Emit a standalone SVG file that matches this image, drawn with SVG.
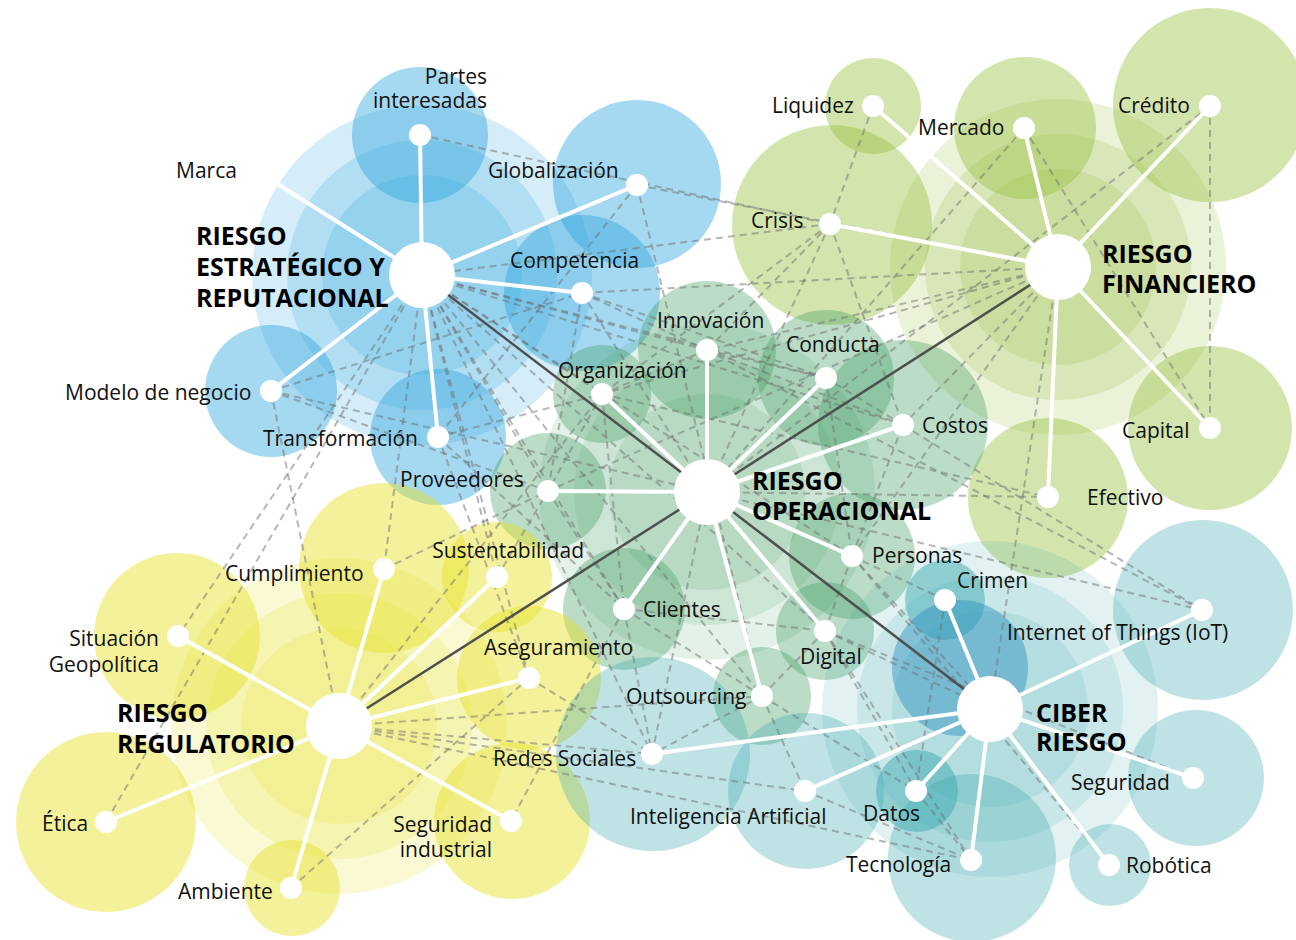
<svg xmlns="http://www.w3.org/2000/svg" width="1296" height="940" viewBox="0 0 1296 940">
<style>
.b{fill:#29a3dd;fill-opacity:.42}.br{fill:#29a3dd;fill-opacity:.2}
.g{fill:#96be3c;fill-opacity:.42}.gr{fill:#96be3c;fill-opacity:.2}
.o{fill:#3d9a5e;fill-opacity:.35}.or{fill:#3d9a5e;fill-opacity:.14}
.y{fill:#e6e128;fill-opacity:.47}.yr{fill:#e6e128;fill-opacity:.2}
.t{fill:#3caaaf;fill-opacity:.33}.tr{fill:#3caaaf;fill-opacity:.15}.td{fill:#3caaaf;fill-opacity:.5}
.d{stroke:#707070;stroke-opacity:.5;stroke-width:2;stroke-dasharray:7 5;fill:none}
.s{stroke:#fff;stroke-width:4;stroke-linecap:round}
.k{stroke:#4f4f4f;stroke-width:2.5}
.dot{fill:#fff}
text{font-family:"Open Sans","DejaVu Sans",sans-serif;font-size:21px;fill:#111}
.h{font-weight:bold;font-size:25px;fill:#000}
.e{text-anchor:end}
</style>
<rect width="1296" height="940" fill="#fff"/>
<g id="halos">
<circle class="br" cx="422" cy="275" r="170"/><circle class="br" cx="422" cy="275" r="135"/><circle class="br" cx="422" cy="275" r="100"/>
<circle class="b" cx="420" cy="135" r="68"/><circle class="b" cx="637" cy="184" r="84"/><circle class="b" cx="582" cy="293" r="78"/><circle class="b" cx="271" cy="391" r="66"/><circle class="b" cx="438" cy="437" r="68"/>
<circle class="gr" cx="1058" cy="267" r="168"/><circle class="gr" cx="1058" cy="267" r="133"/><circle class="gr" cx="1058" cy="267" r="98"/>
<circle class="g" cx="873" cy="106" r="48"/><circle class="g" cx="1025" cy="128" r="71"/><circle class="g" cx="1210" cy="105" r="97"/><circle class="g" cx="832" cy="225" r="100"/><circle class="g" cx="1210" cy="428" r="82"/><circle class="g" cx="1048" cy="498" r="80"/>
<circle class="or" cx="707" cy="492" r="168"/><circle class="or" cx="707" cy="492" r="133"/><circle class="or" cx="707" cy="492" r="98"/>
<circle class="o" cx="707" cy="350" r="69"/><circle class="o" cx="826" cy="378" r="68"/><circle class="o" cx="602" cy="394" r="49"/><circle class="o" cx="903" cy="425" r="85"/><circle class="o" cx="548" cy="491" r="58"/><circle class="o" cx="852" cy="556" r="63"/><circle class="o" cx="624" cy="609" r="61"/><circle class="o" cx="825" cy="631" r="49"/><circle class="o" cx="762" cy="696" r="49"/>
<circle class="yr" cx="339" cy="726" r="168"/><circle class="yr" cx="339" cy="726" r="133"/><circle class="yr" cx="339" cy="726" r="98"/>
<circle class="y" cx="384" cy="568" r="85"/><circle class="y" cx="497" cy="577" r="55"/><circle class="y" cx="177" cy="636" r="83"/><circle class="y" cx="529" cy="678" r="72"/><circle class="y" cx="106" cy="822" r="90"/><circle class="y" cx="512" cy="821" r="78"/><circle class="y" cx="292" cy="888" r="48"/>
<circle class="tr" cx="990" cy="709" r="168"/><circle class="tr" cx="990" cy="709" r="133"/><circle class="tr" cx="990" cy="709" r="98"/>
<circle class="td" cx="945" cy="600" r="40"/><circle fill="#2a90c0" fill-opacity=".45" cx="960" cy="668" r="68"/><circle class="t" cx="1203" cy="610" r="90"/><circle class="t" cx="653" cy="754" r="97"/><circle class="t" cx="806" cy="791" r="78"/><circle class="td" cx="917" cy="791" r="41"/><circle class="t" cx="972" cy="858" r="84"/><circle class="t" cx="1110" cy="865" r="41"/><circle class="t" cx="1196" cy="778" r="68"/>
</g>
<g id="connectors">
<g id="dashed">
<line class="d" x1="420" y1="135" x2="830" y2="224"/><line class="d" x1="637" y1="185" x2="1058" y2="267"/><line class="d" x1="637" y1="185" x2="762" y2="696"/><line class="d" x1="637" y1="185" x2="438" y2="437"/>
<line class="d" x1="422" y1="275" x2="548" y2="491"/><line class="d" x1="422" y1="275" x2="602" y2="394"/><line class="d" x1="422" y1="275" x2="624" y2="609"/><line class="d" x1="422" y1="275" x2="497" y2="577"/><line class="d" x1="422" y1="275" x2="529" y2="678"/><line class="d" x1="422" y1="275" x2="384" y2="569"/><line class="d" x1="422" y1="275" x2="178" y2="636"/><line class="d" x1="422" y1="275" x2="106" y2="822"/><line class="d" x1="422" y1="275" x2="825" y2="631"/><line class="d" x1="422" y1="275" x2="852" y2="556"/><line class="d" x1="422" y1="275" x2="762" y2="696"/><line class="d" x1="422" y1="275" x2="707" y2="350"/><line class="d" x1="422" y1="275" x2="826" y2="378"/><line class="d" x1="422" y1="275" x2="652" y2="754"/><line class="d" x1="422" y1="275" x2="903" y2="425"/>
<line class="d" x1="830" y1="224" x2="422" y2="275"/><line class="d" x1="873" y1="106" x2="830" y2="224"/><line class="d" x1="830" y1="224" x2="707" y2="350"/><line class="d" x1="830" y1="224" x2="707" y2="492"/><line class="d" x1="830" y1="224" x2="903" y2="425"/><line class="d" x1="830" y1="224" x2="602" y2="394"/>
<line class="d" x1="1024" y1="128" x2="707" y2="492"/><line class="d" x1="1024" y1="128" x2="1210" y2="428"/><line class="d" x1="1210" y1="106" x2="1210" y2="428"/><line class="d" x1="1210" y1="106" x2="707" y2="492"/>
<line class="d" x1="1058" y1="267" x2="707" y2="350"/><line class="d" x1="1058" y1="267" x2="602" y2="394"/><line class="d" x1="1058" y1="267" x2="582" y2="293"/><line class="d" x1="1058" y1="267" x2="852" y2="556"/><line class="d" x1="1058" y1="267" x2="903" y2="425"/><line class="d" x1="1058" y1="267" x2="990" y2="709"/><line class="d" x1="1058" y1="267" x2="548" y2="491"/>
<line class="d" x1="707" y1="492" x2="1048" y2="497"/><line class="d" x1="903" y1="425" x2="1202" y2="610"/><line class="d" x1="707" y1="350" x2="1202" y2="610"/><line class="d" x1="602" y1="394" x2="1048" y2="497"/><line class="d" x1="707" y1="492" x2="1202" y2="610"/>
<line class="d" x1="271" y1="391" x2="339" y2="726"/><line class="d" x1="271" y1="391" x2="707" y2="492"/><line class="d" x1="271" y1="391" x2="582" y2="293"/><line class="d" x1="271" y1="391" x2="548" y2="491"/>
<line class="d" x1="438" y1="437" x2="602" y2="394"/><line class="d" x1="438" y1="437" x2="624" y2="609"/><line class="d" x1="438" y1="437" x2="529" y2="678"/>
<line class="d" x1="582" y1="293" x2="707" y2="350"/><line class="d" x1="582" y1="293" x2="826" y2="378"/><line class="d" x1="582" y1="293" x2="548" y2="491"/><line class="d" x1="582" y1="293" x2="707" y2="492"/>
<line class="d" x1="707" y1="350" x2="602" y2="394"/><line class="d" x1="707" y1="350" x2="826" y2="378"/><line class="d" x1="602" y1="394" x2="548" y2="491"/><line class="d" x1="548" y1="491" x2="624" y2="609"/><line class="d" x1="624" y1="609" x2="825" y2="631"/><line class="d" x1="825" y1="631" x2="852" y2="556"/><line class="d" x1="852" y1="556" x2="903" y2="425"/><line class="d" x1="903" y1="425" x2="826" y2="378"/><line class="d" x1="762" y1="696" x2="624" y2="609"/><line class="d" x1="762" y1="696" x2="825" y2="631"/><line class="d" x1="707" y1="350" x2="903" y2="425"/><line class="d" x1="826" y1="378" x2="852" y2="556"/><line class="d" x1="602" y1="394" x2="624" y2="609"/>
<line class="d" x1="624" y1="609" x2="652" y2="754"/><line class="d" x1="624" y1="609" x2="511" y2="821"/><line class="d" x1="762" y1="696" x2="652" y2="754"/><line class="d" x1="762" y1="696" x2="805" y2="791"/><line class="d" x1="825" y1="631" x2="916" y2="791"/><line class="d" x1="852" y1="556" x2="945" y2="600"/><line class="d" x1="825" y1="631" x2="990" y2="709"/><line class="d" x1="852" y1="556" x2="990" y2="709"/>
<line class="d" x1="339" y1="726" x2="971" y2="860"/><line class="d" x1="339" y1="726" x2="652" y2="754"/><line class="d" x1="339" y1="726" x2="762" y2="696"/><line class="d" x1="339" y1="726" x2="805" y2="791"/><line class="d" x1="291" y1="888" x2="529" y2="678"/><line class="d" x1="497" y1="577" x2="548" y2="491"/><line class="d" x1="384" y1="569" x2="548" y2="491"/><line class="d" x1="529" y1="678" x2="652" y2="754"/><line class="d" x1="339" y1="726" x2="602" y2="394"/>
<line class="d" x1="652" y1="754" x2="707" y2="492"/><line class="d" x1="945" y1="600" x2="916" y2="791"/><line class="d" x1="916" y1="791" x2="971" y2="860"/><line class="d" x1="805" y1="791" x2="971" y2="860"/><line class="d" x1="825" y1="631" x2="1193" y2="778"/><line class="d" x1="825" y1="631" x2="971" y2="860"/><line class="d" x1="852" y1="556" x2="1109" y2="865"/><line class="d" x1="762" y1="696" x2="916" y2="791"/>
</g>
<g id="spokes">
<line class="s" x1="422" y1="275" x2="420" y2="135"/><line class="s" x1="422" y1="275" x2="637" y2="185"/><line class="s" x1="422" y1="275" x2="582" y2="293"/><line class="s" x1="422" y1="275" x2="271" y2="391"/><line class="s" x1="422" y1="275" x2="438" y2="437"/><line class="s" x1="422" y1="275" x2="279" y2="185"/>
<line class="s" x1="1058" y1="267" x2="873" y2="106"/><line class="s" x1="1058" y1="267" x2="1024" y2="128"/><line class="s" x1="1058" y1="267" x2="1210" y2="106"/><line class="s" x1="1058" y1="267" x2="830" y2="224"/><line class="s" x1="1058" y1="267" x2="1210" y2="428"/><line class="s" x1="1058" y1="267" x2="1048" y2="497"/>
<line class="s" x1="707" y1="492" x2="707" y2="350"/><line class="s" x1="707" y1="492" x2="826" y2="378"/><line class="s" x1="707" y1="492" x2="602" y2="394"/><line class="s" x1="707" y1="492" x2="903" y2="425"/><line class="s" x1="707" y1="492" x2="548" y2="491"/><line class="s" x1="707" y1="492" x2="852" y2="556"/><line class="s" x1="707" y1="492" x2="624" y2="609"/><line class="s" x1="707" y1="492" x2="825" y2="631"/><line class="s" x1="707" y1="492" x2="762" y2="696"/>
<line class="s" x1="339" y1="726" x2="384" y2="569"/><line class="s" x1="339" y1="726" x2="497" y2="577"/><line class="s" x1="339" y1="726" x2="178" y2="636"/><line class="s" x1="339" y1="726" x2="529" y2="678"/><line class="s" x1="339" y1="726" x2="106" y2="822"/><line class="s" x1="339" y1="726" x2="511" y2="821"/><line class="s" x1="339" y1="726" x2="291" y2="888"/>
<line class="s" x1="990" y1="709" x2="945" y2="600"/><line class="s" x1="990" y1="709" x2="1202" y2="610"/><line class="s" x1="990" y1="709" x2="652" y2="754"/><line class="s" x1="990" y1="709" x2="805" y2="791"/><line class="s" x1="990" y1="709" x2="916" y2="791"/><line class="s" x1="990" y1="709" x2="971" y2="860"/><line class="s" x1="990" y1="709" x2="1109" y2="865"/><line class="s" x1="990" y1="709" x2="1193" y2="778"/>
</g>
<g id="hub-links">
<line class="k" x1="422" y1="275" x2="707" y2="492"/><line class="k" x1="707" y1="492" x2="1058" y2="267"/><line class="k" x1="707" y1="492" x2="990" y2="709"/><line class="k" x1="707" y1="492" x2="339" y2="726"/>
</g>
</g>
<g id="hub-estrategico"><circle class="dot" cx="422" cy="275" r="33"/><text class="h" x="196" y="245">RIESGO</text><text class="h" x="196" y="276">ESTRATÉGICO Y</text><text class="h" x="196" y="307">REPUTACIONAL</text></g>
<g id="hub-financiero"><circle class="dot" cx="1058" cy="267" r="33"/><text class="h" x="1102" y="263">RIESGO</text><text class="h" x="1102" y="293">FINANCIERO</text></g>
<g id="hub-operacional"><circle class="dot" cx="707" cy="492" r="33"/><text class="h" x="752" y="490">RIESGO</text><text class="h" x="752" y="520">OPERACIONAL</text></g>
<g id="hub-regulatorio"><circle class="dot" cx="339" cy="726" r="33"/><text class="h" x="117" y="722">RIESGO</text><text class="h" x="117" y="753">REGULATORIO</text></g>
<g id="hub-ciber"><circle class="dot" cx="990" cy="709" r="33"/><text class="h" x="1036" y="722">CIBER</text><text class="h" x="1036" y="751">RIESGO</text></g>
<g id="n-partes"><circle class="dot" cx="420" cy="135" r="11"/><text class="e" x="487" y="84">Partes</text><text class="e" x="487" y="108">interesadas</text></g>
<g id="n-marca"><text x="176" y="178">Marca</text></g>
<g id="n-globalizacion"><circle class="dot" cx="637" cy="185" r="11"/><text x="488" y="178">Globalización</text></g>
<g id="n-competencia"><circle class="dot" cx="582" cy="293" r="11"/><text x="510" y="268">Competencia</text></g>
<g id="n-modelo"><circle class="dot" cx="271" cy="391" r="11"/><text x="65" y="400">Modelo de negocio</text></g>
<g id="n-transformacion"><circle class="dot" cx="438" cy="437" r="11"/><text x="263" y="446">Transformación</text></g>
<g id="n-liquidez"><circle class="dot" cx="873" cy="106" r="11"/><text x="772" y="113">Liquidez</text></g>
<g id="n-mercado"><circle class="dot" cx="1024" cy="128" r="11"/><text x="918" y="135">Mercado</text></g>
<g id="n-credito"><circle class="dot" cx="1210" cy="106" r="11"/><text x="1118" y="113">Crédito</text></g>
<g id="n-crisis"><circle class="dot" cx="830" cy="224" r="11"/><text x="751" y="228">Crisis</text></g>
<g id="n-capital"><circle class="dot" cx="1210" cy="428" r="11"/><text x="1122" y="438">Capital</text></g>
<g id="n-efectivo"><circle class="dot" cx="1048" cy="497" r="11"/><text x="1087" y="505">Efectivo</text></g>
<g id="n-innovacion"><circle class="dot" cx="707" cy="350" r="11"/><text x="657" y="328">Innovación</text></g>
<g id="n-conducta"><circle class="dot" cx="826" cy="378" r="11"/><text x="786" y="352">Conducta</text></g>
<g id="n-organizacion"><circle class="dot" cx="602" cy="394" r="11"/><text x="558" y="378">Organización</text></g>
<g id="n-costos"><circle class="dot" cx="903" cy="425" r="11"/><text x="922" y="433">Costos</text></g>
<g id="n-proveedores"><circle class="dot" cx="548" cy="491" r="11"/><text x="400" y="487">Proveedores</text></g>
<g id="n-personas"><circle class="dot" cx="852" cy="556" r="11"/><text x="872" y="563">Personas</text></g>
<g id="n-clientes"><circle class="dot" cx="624" cy="609" r="11"/><text x="643" y="617">Clientes</text></g>
<g id="n-digital"><circle class="dot" cx="825" cy="631" r="11"/><text x="800" y="664">Digital</text></g>
<g id="n-outsourcing"><circle class="dot" cx="762" cy="696" r="11"/><text x="626" y="704">Outsourcing</text></g>
<g id="n-cumplimiento"><circle class="dot" cx="384" cy="569" r="11"/><text x="225" y="581">Cumplimiento</text></g>
<g id="n-sustentabilidad"><circle class="dot" cx="497" cy="577" r="11"/><text class="e" x="584" y="558">Sustentabilidad</text></g>
<g id="n-situacion"><circle class="dot" cx="178" cy="636" r="11"/><text class="e" x="159" y="646">Situación</text><text class="e" x="159" y="672">Geopolítica</text></g>
<g id="n-aseguramiento"><circle class="dot" cx="529" cy="678" r="11"/><text x="484" y="655">Aseguramiento</text></g>
<g id="n-etica"><circle class="dot" cx="106" cy="822" r="11"/><text x="42" y="831">Ética</text></g>
<g id="n-seguridad-industrial"><circle class="dot" cx="511" cy="821" r="11"/><text class="e" x="492" y="832">Seguridad</text><text class="e" x="492" y="857">industrial</text></g>
<g id="n-ambiente"><circle class="dot" cx="291" cy="888" r="11"/><text x="178" y="899">Ambiente</text></g>
<g id="n-crimen"><circle class="dot" cx="945" cy="600" r="11"/><text x="957" y="588">Crimen</text></g>
<g id="n-iot"><circle class="dot" cx="1202" cy="610" r="11"/><text x="1007" y="640">Internet of Things (IoT)</text></g>
<g id="n-redes"><circle class="dot" cx="652" cy="754" r="11"/><text x="493" y="766">Redes Sociales</text></g>
<g id="n-ia"><circle class="dot" cx="805" cy="791" r="11"/><text x="630" y="824">Inteligencia Artificial</text></g>
<g id="n-datos"><circle class="dot" cx="916" cy="791" r="11"/><text x="863" y="821">Datos</text></g>
<g id="n-tecnologia"><circle class="dot" cx="971" cy="860" r="11"/><text x="846" y="872">Tecnología</text></g>
<g id="n-robotica"><circle class="dot" cx="1109" cy="865" r="11"/><text x="1126" y="873">Robótica</text></g>
<g id="n-seguridad"><circle class="dot" cx="1193" cy="778" r="11"/><text x="1071" y="790">Seguridad</text></g>
</svg>
